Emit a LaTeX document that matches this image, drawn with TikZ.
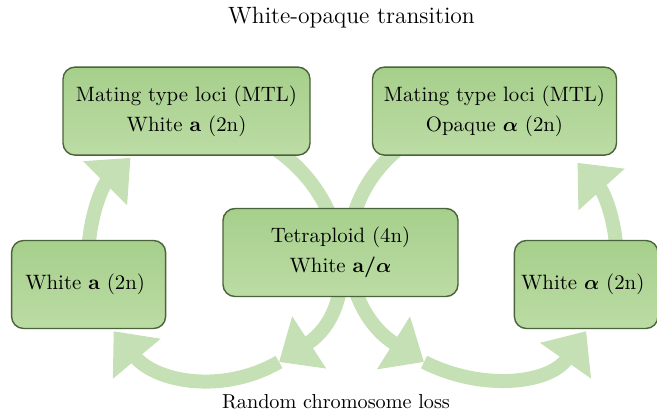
\documentclass[tikz,border=0pt]{standalone}
\usepackage{tikz}
\usetikzlibrary{
    positioning,
    arrows.meta,
    backgrounds
}

\definecolor{cellborder}{HTML}{4A6339}
\definecolor{celltop}{HTML}{A6CF8B}
\definecolor{cellbottom}{HTML}{BCDCA5}
\definecolor{flowgreen}{HTML}{C5E0B4}

% bold upright-looking alpha for the mating types
\newcommand{\balpha}{{\boldmath$\alpha$}}

\begin{document}
\begin{tikzpicture}[
    cell/.style={
        rectangle,
        rounded corners=6pt,
        draw=cellborder,
        line width=0.7pt,
        top color=celltop,
        bottom color=cellbottom,
        align=center,
        minimum height=44pt,
        font=\fontsize{10.4}{15}\selectfont
    },
    caption/.style={
        anchor=base,
        font=\fontsize{11.8}{14}\selectfont
    },
    flow/.style={
        draw=flowgreen,
        line width=7pt,
        -{Triangle[width=30pt,length=18pt]}
    }
]

\useasboundingbox (0,0) rectangle (328.5pt,-208pt);

% ============================================================
% CELLS
% ============================================================

\node[cell, minimum width=117.5pt] (tetra) at (170.25pt,-126.25pt)
{
Tetraploid (4n)\\
White \textbf{a/}\balpha
};

\node[cell, minimum width=123.5pt, above=26pt of tetra,
      xshift=-77pt] (mtlwhite)
{
Mating type loci (MTL)\\
White \textbf{a} (2n)
};

\node[cell, minimum width=122pt, above=26pt of tetra,
      xshift=77pt] (mtlopaque)
{
Mating type loci (MTL)\\
Opaque \balpha{} (2n)
};

\node[cell, minimum width=77pt, left=28pt of tetra,
      yshift=-16pt] (whitea)
{
White \textbf{a} (2n)
};

\node[cell, minimum width=71pt, right=27.5pt of tetra,
      yshift=-16pt] (whitealpha)
{
White \balpha{} (2n)
};

% ============================================================
% CAPTIONS
% ============================================================

\node[caption] (transition) at (175.75pt,-12pt)
{
White-opaque transition
};

\node[caption, font=\fontsize{10.1}{12}\selectfont] (loss)
    at (168pt,-204pt)
{
Random chromosome loss
};

% ============================================================
% CONNECTIONS
% ============================================================

\coordinate (lossL) at (139.5pt,-181pt);
\coordinate (lossR) at (212pt,-181pt);

\begin{scope}[on background layer]
\draw[flow] ([yshift=-3pt]whitea.north) to[out=85,in=225]
    ([xshift=-28pt,yshift=-1pt]mtlwhite.south);
\draw[flow] ([xshift=45pt,yshift=3pt]mtlwhite.south)
    to[out=-35,in=33,looseness=1.15] (lossL);
\draw[flow] (lossL) to[out=210,in=-50]
    ([xshift=12.5pt,yshift=-1pt]whitea.south);

\draw[flow] ([xshift=-48.5pt,yshift=3pt]mtlopaque.south)
    to[out=220,in=148,looseness=1.15] (lossR);
\draw[flow] (lossR) to[out=-27,in=-125]
    ([yshift=-1pt]whitealpha.south);
\draw[flow] ([xshift=15pt,yshift=-3pt]whitealpha.north) to[out=95,in=-48]
    ([xshift=41.5pt,yshift=-3.5pt]mtlopaque.south);
\end{scope}

\end{tikzpicture}
\end{document}
